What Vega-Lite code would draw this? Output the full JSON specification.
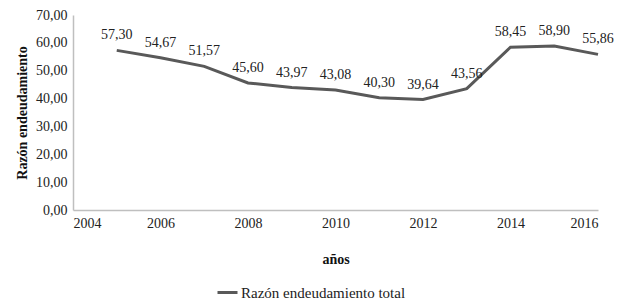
{
  "$schema": "https://vega.github.io/schema/vega-lite/v6.json",
  "autosize": {"type": "none"},
  "width": 525,
  "height": 195,
  "padding": {"left": 73, "top": 15, "right": 27, "bottom": 96},
  "background": "white",
  "config": {
    "locale": {"number": {"decimal": ",", "thousands": ".", "grouping": [3], "currency": ["", ""]}},
    "font": "Liberation Serif",
    "view": {"stroke": null},
    "text": {"font": "Liberation Serif"},
    "axis": {"labelFont": "Liberation Serif", "titleFont": "Liberation Serif", "labelFontSize": 14, "labelColor": "#222", "titleColor": "#111", "domainColor": "#bfbfbf", "domainWidth": 1.5, "grid": false, "ticks": false},
    "legend": {"labelFont": "Liberation Serif", "labelFontSize": 15, "labelColor": "#222", "labelLimit": 400}
  },
  "data": {
    "values": [
      {"anio": 2005, "valor": 57.30, "serie": "Razón endeudamiento total"},
      {"anio": 2006, "valor": 54.67, "serie": "Razón endeudamiento total"},
      {"anio": 2007, "valor": 51.57, "serie": "Razón endeudamiento total"},
      {"anio": 2008, "valor": 45.60, "serie": "Razón endeudamiento total"},
      {"anio": 2009, "valor": 43.97, "serie": "Razón endeudamiento total"},
      {"anio": 2010, "valor": 43.08, "serie": "Razón endeudamiento total"},
      {"anio": 2011, "valor": 40.30, "serie": "Razón endeudamiento total"},
      {"anio": 2012, "valor": 39.64, "serie": "Razón endeudamiento total"},
      {"anio": 2013, "valor": 43.56, "serie": "Razón endeudamiento total"},
      {"anio": 2014, "valor": 58.45, "serie": "Razón endeudamiento total"},
      {"anio": 2015, "valor": 58.90, "serie": "Razón endeudamiento total"},
      {"anio": 2016, "valor": 55.86, "serie": "Razón endeudamiento total"}
    ]
  },
  "encoding": {
    "x": {"field": "anio", "type": "quantitative", "scale": {"domain": [2004, 2016], "nice": false, "zero": false},
          "axis": {"values": [2004, 2006, 2008, 2010, 2012, 2014, 2016], "format": "d", "title": "años", "titleFontSize": 14, "titleFontWeight": "bold", "titlePadding": 22, "labelPadding": 6}},
    "y": {"field": "valor", "type": "quantitative", "scale": {"domain": [0, 70], "nice": false},
          "axis": {"values": [0, 10, 20, 30, 40, 50, 60, 70], "tickCount": 8, "labelOverlap": false, "labelFlush": false, "format": ".2f", "title": "Razón endeudamiento", "titleFontSize": 14, "titleFontWeight": "bold", "titlePadding": 6, "labelPadding": 6}}
  },
  "layer": [
    {
      "mark": {"type": "line", "strokeWidth": 3},
      "encoding": {
        "color": {"field": "serie", "type": "nominal", "scale": {"range": ["#595959"]},
                  "legend": {"orient": "none", "legendX": 143, "legendY": 266, "title": null, "symbolType": "stroke", "symbolStrokeWidth": 3, "symbolSize": 400, "direction": "horizontal", "labelOffset": 2, "labelLimit": 400}}
      }
    },
    {
      "mark": {"type": "text", "dy": -15, "fontSize": 14, "color": "#222", "font": "Liberation Serif"},
      "encoding": {
        "text": {"field": "valor", "type": "quantitative", "format": ".2f"}
      }
    }
  ]
}
